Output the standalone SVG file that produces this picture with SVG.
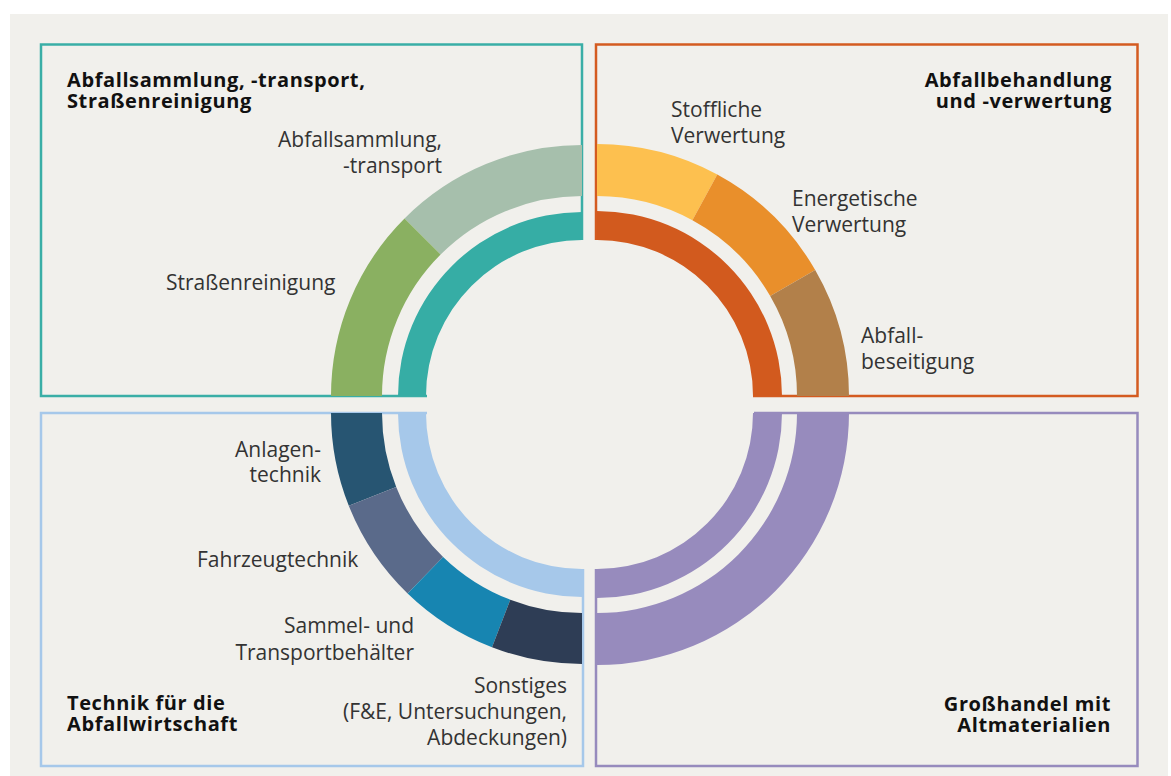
<svg xmlns="http://www.w3.org/2000/svg" width="1171" height="776" viewBox="0 0 1171 776">
<style>
.title{font-family:"Open Sans","Liberation Sans",sans-serif;font-weight:700;font-size:20px;letter-spacing:0.6px;fill:#111}
.lbl{font-family:"Open Sans","Liberation Sans",sans-serif;font-weight:400;font-size:21px;fill:#333}
.end{text-anchor:end}
.box{fill:none;stroke-width:2.5}
</style>
<rect x="0" y="0" width="1171" height="776" fill="#ffffff"/>
<rect x="10" y="14" width="1158" height="762" fill="#f1f0ec"/>
<g id="connectors">
<path class="box" stroke="#3aaea6" d="M427,396 H41 V44.5 H582 V240"/>
<path class="box" stroke="#d45b20" d="M596,240 V44.5 H1137.5 V396 H753"/>
<path class="box" stroke="#a6c8ea" d="M427,413 H41 V766 H583 V569"/>
<path class="box" stroke="#978bbd" d="M596,569 V766 H1137.5 V413 H754"/>
</g>
<g id="q1">
<path fill="#36ada5" d="M582,212 A184,184 0 0 0 398,396 L426,396 A156,156 0 0 1 582,240 Z"/>
<path fill="#a6bfac" d="M582,145 A251,251 0 0 0 404.5,218.5 L440.6,254.6 A200,200 0 0 1 582,196 Z"/>
<path fill="#8ab061" d="M404.5,218.5 A251,251 0 0 0 331,396 L382,396 A200,200 0 0 1 440.6,254.6 Z"/>
<text class="title" x="67" y="87">Abfallsammlung, -transport,</text>
<text class="title" x="67" y="108">Straßenreinigung</text>
<text class="lbl end" x="442" y="147">Abfallsammlung,</text>
<text class="lbl end" x="442" y="173">-transport</text>
<text class="lbl" x="166" y="290">Straßenreinigung</text>
</g>
<g id="q2">
<path fill="#d25a1e" d="M597,211 A185,185 0 0 1 782,396 L753,396 A156,156 0 0 0 597,240 Z"/>
<path fill="#fdc04f" d="M597,144 A252,252 0 0 1 717.3,174.5 L692.4,220.2 A200,200 0 0 0 597,196 Z"/>
<path fill="#e98f2b" d="M717.3,174.5 A252,252 0 0 1 815.2,270 L770.2,296 A200,200 0 0 0 692.4,220.2 Z"/>
<path fill="#b2804a" d="M815.2,270 A252,252 0 0 1 849,396 L797,396 A200,200 0 0 0 770.2,296 Z"/>
<text class="title end" x="1112" y="87">Abfallbehandlung</text>
<text class="title end" x="1112" y="108">und -verwertung</text>
<text class="lbl" x="671" y="117">Stoffliche</text>
<text class="lbl" x="671" y="143">Verwertung</text>
<text class="lbl" x="792" y="206">Energetische</text>
<text class="lbl" x="792" y="232">Verwertung</text>
<text class="lbl" x="861" y="343">Abfall-</text>
<text class="lbl" x="861" y="369">beseitigung</text>
</g>
<g id="q3">
<path fill="#a6c8ea" d="M398,413 A184,184 0 0 0 582,597 L582,569 A156,156 0 0 1 426,413 Z"/>
<path fill="#275572" d="M331,413 A251,251 0 0 0 348.8,505.8 L396.2,486.9 A200,200 0 0 1 382,413 Z"/>
<path fill="#5a6a8a" d="M348.8,505.8 A251,251 0 0 0 407.6,593.5 L443.1,556.9 A200,200 0 0 1 396.2,486.9 Z"/>
<path fill="#1785b1" d="M407.6,593.5 A251,251 0 0 0 492,647.3 L510.3,599.7 A200,200 0 0 1 443.1,556.9 Z"/>
<path fill="#2e3d55" d="M492,647.3 A251,251 0 0 0 582,664 L582,613 A200,200 0 0 1 510.3,599.7 Z"/>
<text class="title" x="67" y="710">Technik für die</text>
<text class="title" x="67" y="731">Abfallwirtschaft</text>
<text class="lbl end" x="321" y="457">Anlagen-</text>
<text class="lbl end" x="321" y="482">technik</text>
<text class="lbl" x="197" y="567">Fahrzeugtechnik</text>
<text class="lbl end" x="414" y="633">Sammel- und</text>
<text class="lbl end" x="414" y="660">Transportbehälter</text>
<text class="lbl end" x="567" y="693">Sonstiges</text>
<text class="lbl end" x="567" y="719">(F&amp;E, Untersuchungen,</text>
<text class="lbl end" x="567" y="745">Abdeckungen)</text>
</g>
<g id="q4">
<path fill="#978bbd" d="M597,598 A185,185 0 0 0 782,413 L753,413 A156,156 0 0 1 597,569 Z"/>
<path fill="#978bbd" d="M597,665 A252,252 0 0 0 849,413 L797,413 A200,200 0 0 1 597,613 Z"/>
<text class="title end" x="1111" y="711">Großhandel mit</text>
<text class="title end" x="1111" y="732">Altmaterialien</text>
</g>
</svg>
